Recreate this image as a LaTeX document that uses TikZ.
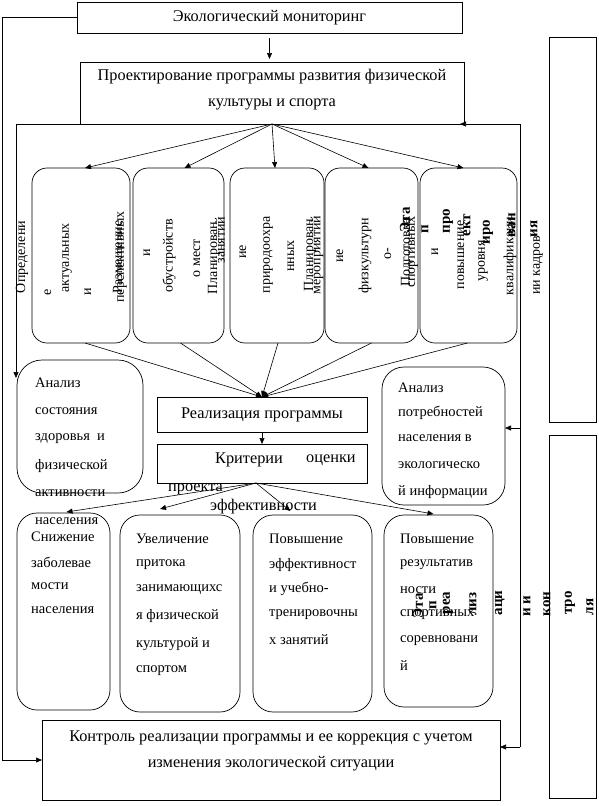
\documentclass[tikz,border=0pt]{standalone}
\usepackage{fontspec}
\setmainfont{Liberation Serif}
\usetikzlibrary{arrows.meta,calc}
\newcommand\mybig{\fontsize{16.3}{26}\selectfont}
\newcommand\mytxt{\fontsize{14.5}{26}\selectfont}
\newcommand\myrot{\fontsize{14}{14}\selectfont}
\newcommand\mybld{\fontsize{15}{15}\selectfont\bfseries}
\begin{document}
\begin{tikzpicture}[x=1pt,y=-1pt,
  box/.style={draw, line width=0.7pt, inner sep=0pt, outer sep=0pt, anchor=north west},
  rbox/.style={box, rounded corners=15pt},
  lbox/.style={box, rounded corners=20pt},
  arr/.style={-{Triangle[length=6pt,width=5pt]}, line width=0.6pt},
  ln/.style={line width=0.6pt},
  rot/.style={rotate=90, inner sep=0pt, font=\myrot},
  bld/.style={rotate=90, inner sep=0pt, font=\mybld},
  txt/.style={inner sep=0pt, anchor=west, font=\mytxt}]
\useasboundingbox (0,0) rectangle (598,806);
% main boxes
\node[box, minimum width=385pt, minimum height=31pt, font=\mybig] (eco) at (77,2) {Экологический мониторинг};
\node[box, minimum width=384pt, minimum height=62pt] (proj) at (80,62) {};
\node[font=\mybig, align=center, inner sep=0pt] (projt) at (272,90) {Проектирование программы развития физической\\культуры и спорта};
% row boxes
\node[rbox, minimum width=98pt, minimum height=175pt] (b1) at (32,168) {};
\node[rbox, minimum width=91pt, minimum height=175pt] (b2) at (133,168) {};
\node[rbox, minimum width=94pt, minimum height=175pt] (b3) at (230,168) {};
\node[rbox, minimum width=93pt, minimum height=175pt] (b4) at (325,168) {};
\node[rbox, minimum width=97pt, minimum height=175pt] (b5) at (420,168) {};
% middle
\node[lbox, rounded corners=25pt, minimum width=126pt, minimum height=133pt] (an1) at (17,360) {};
\node[box, minimum width=210pt, minimum height=35pt, font=\mybig] (real) at (157,397) {Реализация программы};
\node[box, minimum width=210pt, minimum height=39pt] (krit) at (157,444) {};
\node[lbox, rounded corners=22pt, minimum width=123pt, minimum height=138pt] (potr) at (382,367) {};
% lower boxes
\node[lbox, minimum width=93pt, minimum height=197pt] (la) at (17,513) {};
\node[lbox, minimum width=120pt, minimum height=197pt] (lb) at (120,515) {};
\node[lbox, minimum width=119pt, minimum height=197pt] (lc) at (253,515) {};
\node[lbox, minimum width=109pt, minimum height=192pt] (ld) at (384,515) {};
\node[box, minimum width=458pt, minimum height=80pt] (kon) at (42,720) {};
\node[font=\mybig, align=center, inner sep=0pt] (kont) at (271,751) {Контроль реализации программы и ее коррекция с учетом\\изменения экологической ситуации};
% right boxes
\node[box, minimum width=47pt, minimum height=385pt] (rs1) at (549,37) {};
\node[box, minimum width=47pt, minimum height=363pt] (rs2) at (549,435) {};
% texts: Критерии
\node[txt, font=\mybig] (kr1) at (215,460) {Критерии};
\node[txt, font=\mybig] (kr2) at (306,460) {оценки};
\node[txt, font=\mybig] (kr3) at (168,489) {проекта};
\node[txt, font=\mybig] (kr4) at (210,507) {эффективности};
% Анализ состояния
\foreach \t/\yy [count=\i] in {Анализ/383, состояния/411, здоровья~~и/439, физической/466, активности/493, населения/521}
  \node[txt] (as\i) at (35,\yy) {\t};
% Анализ потребностей
\foreach \t/\yy [count=\i] in {Анализ/388, потребностей/413, населения~в/438, экологическо/465, й~информации/492}
  \node[txt] (ap\i) at (398,\yy) {\t};
% lower box texts
\foreach \t/\yy [count=\i] in {Снижение/537, заболевае/562, мости/586, населения/610}
  \node[txt] (ta\i) at (31,\yy) {\t};
\foreach \t/\yy [count=\i] in {Увеличение/539, притока/565, занимающихс/590, я~физической/616, культурой~и/644, спортом/671}
  \node[txt] (tb\i) at (136,\yy) {\t};
\foreach \t/\yy [count=\i] in {Повышение/539, эффективност/565, и~учебно-/589, тренировочны/615, х~занятий/640}
  \node[txt] (tc\i) at (269,\yy) {\t};
\foreach \t/\yy [count=\i] in {Повышение/539, результатив/565, ности/590, спортивных/615, соревновани/641, й/666}
  \node[txt] (td\i) at (400,\yy) {\t};
% rotated texts in row boxes
\foreach \t/\xx/\yy [count=\i] in {Определени/22/257, е/48/292, актуальных/67/258, и/88/292, Размещение/119/257, перспективных/122/257,
  и/147/253, обустройств/169/256, о~мест/197/258, Планирован/214/258, занятий/220/240,
  ие/243/252, природоохра/268/255, нных/291/256, Планирован/310/255, мероприятий/317/255,
  ие/340/256, физкультурн/365/256, о-/388/254, Подготовка/407/252, спортивных/413/252,
  и/435/252, повышение/461/255, уровня/483/261, квалификаци/510/256, ии~кадров/538/265}
  \node[rot] (r\i) at (\xx,\yy) {\t};
% bold rotated: upper stage
\foreach \t/\xx/\yy [count=\i] in {Эта/405/220, п/425/229, про/448/221, ект/467/225, иро/488/232, ван/512/225, ия/534/229}
  \node[bld] (s\i) at (\xx,\yy) {\t};
% bold rotated: lower stage
\foreach \t/\xx/\yy [count=\i] in {Эта/418/606, п/433/605, реа/448/603, лиз/473/604, аци/500/603, и~и/527/606, кон/547/604, тро/570/603, ля/590/607}
  \node[bld] (u\i) at (\xx,\yy) {\t};
% connectors
\coordinate (L1) at (2,17.5);
\draw[arr] (eco.west) -- (L1) |- (kon.west);
\draw[arr, shorten <=5pt, shorten >=3pt] (eco.south) -- (eco.south |- proj.north);
\coordinate (LB) at (16,378);
\draw[arr] (proj.south west) -| (LB);
\coordinate (RA) at (520,124);
\coordinate (RC) at (520,428);
\coordinate (RB) at (520,747);
\draw[arr] (RA) -- ([xshift=-4pt]proj.south east);
\draw[ln] (RA) -- (RB);
\draw[arr] (RC) -- (potr.east |- RC);
\draw[arr] (RB) -- (kon.east |- RB);
\foreach \b/\s in {b1/4, b2/6, b3/-2, b4/-3, b5/-5}
  \draw[arr] (proj.south) -- ([xshift=\s pt]\b.north);
\foreach \b/\s in {b1/4, b2/2, b3/1, b4/0, b5/-1}
  \draw[arr] ([xshift=\s pt]\b.south) -- (real.north);
\draw[arr] (real.south) -- (krit.north);
\coordinate (KS) at ($(krit.south)+(-6,0)$);
\draw[arr] (KS) -- ([xshift=3pt,yshift=1pt]la.north);
\draw[arr] (KS) -- ([xshift=-20pt,yshift=6pt]lb.north);
\draw[arr] (KS) -- ([xshift=-22pt,yshift=4pt]lc.north);
\draw[arr] (KS) -- ([xshift=-5pt,yshift=1pt]ld.north);
\end{tikzpicture}
\end{document}
